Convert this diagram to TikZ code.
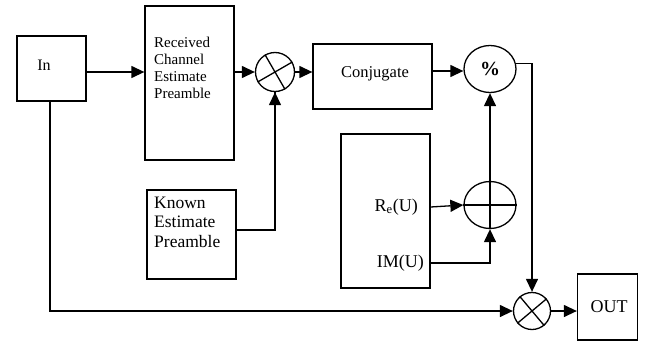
\documentclass[tikz,border=0pt]{standalone}
\usepackage{fontspec}
\setmainfont{Liberation Serif}
\usepackage{tikz}
\usetikzlibrary{calc}
\usetikzlibrary{arrows.meta}
\usetikzlibrary{shapes.geometric}
\tikzstyle{blk} = [draw, line width=1.3pt, inner sep=0pt]
\tikzstyle{junc} = [draw, circle, line width=1.3pt, inner sep=0pt]
\tikzstyle{txt} = [inner sep=0pt, align=left]
\tikzstyle{sig} = [line width=1.3pt, -{Triangle[length=13pt,width=12pt]}]
\tikzstyle{wire} = [line width=1.3pt]

\begin{document}
\begin{tikzpicture}[x=1pt,y=-1pt]
  	\useasboundingbox (0,0) rectangle (645,340);
  	% blocks
  	\node[blk, minimum width=69, minimum height=65] (in) at (51.5,68.5) {};
  	\node[txt, font=\fontsize{16}{18}\selectfont] (intxt) at (44,65) {In};
  	\node[blk, minimum width=89, minimum height=154] (rcv) at (189.5,83) {};
  	\node[txt, anchor=west, font=\fontsize{15}{17}\selectfont] (rcvtxt) at (154,68) {Received\\Channel\\Estimate\\Preamble};
  	\node[blk, minimum width=89, minimum height=89] (known) at (191.5,234.5) {};
  	\node[txt, anchor=west, font=\fontsize{17.5}{19.5}\selectfont] (knowntxt) at (154,222) {Known\\Estimate\\Preamble};
  	\node[blk, minimum width=119, minimum height=65] (conj) at (372.5,76.5) {};
  	\node[txt, font=\fontsize{16.5}{18}\selectfont] (conjtxt) at (375,74) {Conjugate};
  	\node[blk, minimum width=89, minimum height=154] (ubox) at (385.5,211) {};
  	\node[txt, anchor=east, font=\fontsize{18}{20}\selectfont] (re) at (418,207) {R\textsubscript{e}(U)};
  	\node[txt, anchor=east, font=\fontsize{18}{20}\selectfont] (im) at (424,263) {IM(U)};
  	\node[blk, minimum width=60, minimum height=66] (out) at (607.5,307) {};
  	\node[txt, font=\fontsize{18}{20}\selectfont] (outtxt) at (609,307) {OUT};

  	% junctions
  	\node[junc, minimum size=39] (mula) at (275,72) {};
  	\draw[wire] (mula.30) -- (mula.210) (mula.120) -- (mula.300);
  	\node[junc, ellipse, minimum width=52, minimum height=47] (divc) at (490,69) {\fontsize{20}{22}\selectfont\bfseries\%};
  	\node[junc, ellipse, minimum width=52, minimum height=47] (addc) at (490,205) {};
  	\draw[wire] (addc.west) -- (addc.east);
  	\node[junc, minimum size=37] (mulb) at (532,311) {};
  	\draw[wire] (mulb.40) -- (mulb.220) (mulb.130) -- (mulb.310);

  	% connectors
  	\draw[sig] (in.east |- 0,72) -- (rcv.west |- 0,72);
  	\draw[sig] (rcv.east |- mula) -- (mula.west);
  	\draw[sig] (mula.east) -- (conj.west |- mula);
  	\draw[sig] (conj.east |- 0,71) -- (divc.west |- 0,71);
  	\draw[wire] (known.east |- 0,230) -| (mula.south);
  	\draw[sig] ($(mula.south)+(0,30)$) -- (mula.south);
  	\draw[sig] (divc.12) -| (mulb.north);
  	\draw[sig] (in.south -| 50,0) |- (mulb.west);
  	\draw[sig] (mulb.east) -- (out.west |- mulb);
  	\draw[sig] (ubox.east |- re) -- (addc.west);
  	\draw[sig] (ubox.east |- im) -| (addc.south);
  	\draw[sig] (addc.south) -- (divc.south);
	\end{tikzpicture}
\end{document}
